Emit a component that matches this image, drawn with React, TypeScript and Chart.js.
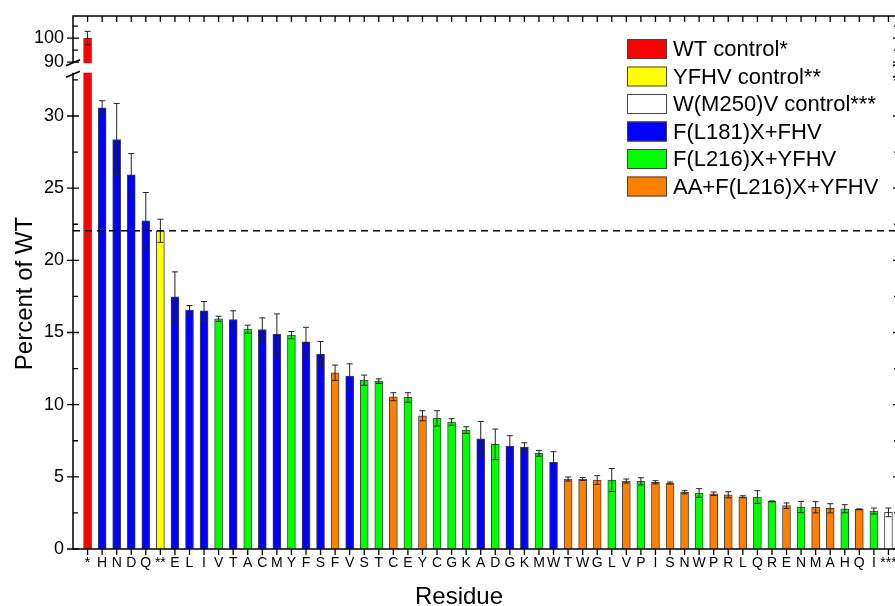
import React, { useEffect, useRef } from 'react';
import { Chart, registerables, LinearScale } from 'chart.js';

const RESIDUES = ['*','H','N','D','Q','**','E','L','I','V','T','A','C','M','Y','F','S','F','V','S','T','C','E','Y','C','G','K','A','D','G','K','M','W','T','W','G','L','V','P','I','S','N','W','P','R','L','Q','R','E','N','M','A','H','Q','I','***'];
const VALUES = [100,30.56,28.37,25.92,22.74,22.05,17.47,16.55,16.5,15.95,15.9,15.23,15.21,14.89,14.82,14.36,13.5,12.21,11.98,11.7,11.63,10.55,10.5,9.23,9.05,8.8,8.24,7.64,7.25,7.13,7.06,6.63,6.0,4.85,4.85,4.78,4.78,4.71,4.69,4.62,4.57,3.93,3.88,3.83,3.76,3.62,3.6,3.3,3.0,2.91,2.89,2.82,2.79,2.75,2.63,2.54];
const ERRORS = [2.8,0.5,2.5,1.48,1.96,0.8,1.73,0.32,0.65,0.18,0.6,0.28,0.8,1.4,0.25,1.0,0.88,0.53,0.85,0.35,0.16,0.28,0.33,0.35,0.53,0.23,0.23,1.2,1.06,0.72,0.3,0.2,0.74,0.14,0.1,0.3,0.8,0.14,0.25,0.11,0.07,0.11,0.3,0.12,0.21,0.07,0.44,0.03,0.19,0.39,0.39,0.32,0.28,0.03,0.21,0.3];
const GROUPS = ['WT','L181','L181','L181','L181','YFHV','L181','L181','L181','L216','L181','L216','L181','L181','L216','L181','L181','AA','L181','L216','L216','AA','L216','AA','L216','L216','L216','L181','L216','L181','L181','L216','L181','AA','AA','AA','L216','AA','L216','AA','AA','AA','L216','AA','AA','AA','L216','L216','AA','L216','AA','AA','L216','AA','L216','W250'];
const GROUP_KEYS = ['WT','YFHV','W250','L181','L216','AA'];
const GROUP_LABELS = ['WT control*','YFHV control**','W(M250)V control***','F(L181)X+FHV','F(L216)X+YFHV','AA+F(L216)X+YFHV'];
const GROUP_COLORS = ['#FF0000','#FFFF00','#FFFFFF','#0000FF','#00FF00','#FF8000'];
const Y_MAJOR_TICKS = [0,5,10,15,20,25,30,90,100];
const Y_MINOR_TICKS = [2.5,7.5,12.5,17.5,22.5,27.5,32.5,95,105];
const REFERENCE_LEVEL = 22.05;
// broken axis: [value, fraction of plot height]
const AXIS_BREAK: number[][] = [[0,0],[33,0.8936],[89.5,0.9113],[109.2,1]];
const LOW_TOP = 33;
const HIGH_BOTTOM = 89.5;

const FONT = '"Liberation Sans", Arial, Helvetica, sans-serif';

function valueToFraction(v: number): number {
  const bp = AXIS_BREAK;
  for (let i = 1; i < bp.length; i++) {
    if (v <= bp[i][0] || i === bp.length - 1) {
      const [v0, f0] = bp[i - 1];
      const [v1, f1] = bp[i];
      return f0 + ((v - v0) / (v1 - v0)) * (f1 - f0);
    }
  }
  return 0;
}
function fractionToValue(f: number): number {
  const bp = AXIS_BREAK;
  for (let i = 1; i < bp.length; i++) {
    if (f <= bp[i][1] || i === bp.length - 1) {
      const [v0, f0] = bp[i - 1];
      const [v1, f1] = bp[i];
      return v0 + ((f - f0) / (f1 - f0)) * (v1 - v0);
    }
  }
  return 0;
}

class BrokenLinearScale extends LinearScale {
  static id = 'brokenLinear';
  static defaults = LinearScale.defaults;
  getPixelForValue(value: any) {
    if (value === null || value === undefined || isNaN(+value)) return NaN;
    const f = valueToFraction(+value);
    return this.bottom - f * (this.bottom - this.top);
  }
  getValueForPixel(pixel: number) {
    const f = (this.bottom - pixel) / (this.bottom - this.top);
    return fractionToValue(f);
  }
}

Chart.register(...registerables, BrokenLinearScale);

const decorPlugin = {
  id: 'decor',
  afterDatasetsDraw(chart: any) {
    const ctx = chart.ctx;
    const xs = chart.scales.x;
    const ys = chart.scales.y;
    const area = chart.chartArea;
    ctx.save();
    // error bars
    ctx.strokeStyle = '#222';
    ctx.lineWidth = 1;
    for (let i = 0; i < VALUES.length; i++) {
      const x = xs.getPixelForValue(i + 1);
      const yT = ys.getPixelForValue(VALUES[i] + ERRORS[i]);
      const yB = ys.getPixelForValue(VALUES[i] - ERRORS[i]);
      ctx.beginPath();
      ctx.moveTo(x, yB);
      ctx.lineTo(x, yT);
      ctx.moveTo(x - 3, yT);
      ctx.lineTo(x + 3, yT);
      ctx.moveTo(x - 3, yB);
      ctx.lineTo(x + 3, yB);
      ctx.stroke();
    }
    // dashed reference line
    const yr = ys.getPixelForValue(REFERENCE_LEVEL);
    ctx.strokeStyle = '#000';
    ctx.lineWidth = 1.3;
    ctx.setLineDash([7, 5]);
    ctx.beginPath();
    ctx.moveTo(area.left, yr);
    ctx.lineTo(area.right, yr);
    ctx.stroke();
    ctx.setLineDash([]);
    ctx.restore();
  },
  afterDraw(chart: any) {
    const ctx = chart.ctx;
    const xs = chart.scales.x;
    const ys = chart.scales.y;
    const { left, right, top, bottom } = chart.chartArea;
    const gapTop = ys.getPixelForValue(HIGH_BOTTOM);
    const gapBot = ys.getPixelForValue(LOW_TOP);
    ctx.save();
    // white break gap
    ctx.fillStyle = '#fff';
    ctx.fillRect(left + 1, gapTop, right - left - 2, gapBot - gapTop);

    ctx.strokeStyle = '#000';
    ctx.lineWidth = 1.5;
    ctx.beginPath();
    // left axis (broken)
    ctx.moveTo(left, bottom + 0.75);
    ctx.lineTo(left, gapBot);
    ctx.moveTo(left, gapTop);
    ctx.lineTo(left, top - 0.75);
    // right axis (broken)
    ctx.moveTo(right, bottom + 0.75);
    ctx.lineTo(right, gapBot);
    ctx.moveTo(right, gapTop);
    ctx.lineTo(right, top - 0.75);
    // bottom & top
    ctx.moveTo(left, bottom);
    ctx.lineTo(right, bottom);
    ctx.moveTo(left, top);
    ctx.lineTo(right, top);
    ctx.stroke();

    // x ticks
    ctx.lineWidth = 1.3;
    ctx.beginPath();
    for (let i = 0; i < RESIDUES.length; i++) {
      const x = xs.getPixelForValue(i + 1);
      ctx.moveTo(x, bottom);
      ctx.lineTo(x, bottom + 6);
      ctx.moveTo(x, top);
      ctx.lineTo(x, top + 6);
    }
    // y ticks
    for (const v of Y_MAJOR_TICKS) {
      const y = ys.getPixelForValue(v);
      ctx.moveTo(left - 6, y);
      ctx.lineTo(left + 6, y);
      ctx.moveTo(right - 10, y);
      ctx.lineTo(right + 6, y);
    }
    for (const v of Y_MINOR_TICKS) {
      const y = ys.getPixelForValue(v);
      ctx.moveTo(left, y);
      ctx.lineTo(left + 5, y);
      ctx.moveTo(right - 9, y);
      ctx.lineTo(right, y);
    }
    ctx.stroke();

    // break marks
    ctx.lineWidth = 1.5;
    ctx.beginPath();
    const marks = [gapTop - 0.5, gapBot + 1.5];
    for (const y of marks) {
      ctx.moveTo(left - 7, y + 3);
      ctx.lineTo(left + 7, y - 3);
      ctx.moveTo(right - 10, y + 3);
      ctx.lineTo(right + 4, y - 3);
    }
    ctx.stroke();

    // legend
    const legX = 627;
    const legY0 = 49;
    const pitch = 27.5;
    ctx.font = `22px ${FONT}`;
    ctx.textBaseline = 'middle';
    ctx.textAlign = 'left';
    GROUP_LABELS.forEach((label, g) => {
      const cy = legY0 + g * pitch;
      ctx.fillStyle = GROUP_COLORS[g];
      ctx.fillRect(legX, cy - 10, 40, 20);
      ctx.strokeStyle = '#444';
      ctx.lineWidth = 1;
      ctx.strokeRect(legX + 0.5, cy - 9.5, 39, 19);
      ctx.fillStyle = '#000';
      ctx.fillText(label, legX + 46, cy + 1);
    });

    // axis titles
    ctx.fillStyle = '#000';
    ctx.font = `24px ${FONT}`;
    ctx.textAlign = 'center';
    ctx.textBaseline = 'alphabetic';
    ctx.fillText('Residue', 459, 604);
    ctx.save();
    ctx.translate(31.5, 293.5);
    ctx.rotate(-Math.PI / 2);
    ctx.fillText('Percent of WT', 0, 0);
    ctx.restore();
    ctx.restore();
  },
};

export default function App() {
  const ref = useRef<HTMLCanvasElement>(null);
  useEffect(() => {
    const datasets = GROUP_KEYS.map((key, g) => ({
      label: GROUP_LABELS[g],
      data: RESIDUES.map((_, i) => i)
        .filter((i) => GROUPS[i] === key)
        .map((i) => ({ x: i + 1, y: VALUES[i] })),
      backgroundColor: GROUP_COLORS[g],
      borderColor: '#444',
      borderWidth: 1,
      barThickness: 8,
      grouped: false,
    }));
    const chart = new Chart(ref.current as HTMLCanvasElement, {
      type: 'bar',
      data: { datasets } as any,
      options: {
        animation: false,
        responsive: false,
        events: [],
        layout: { padding: { top: 16, right: 7, left: 0, bottom: 0 } },
        plugins: { legend: { display: false }, tooltip: { enabled: false } },
        scales: {
          x: {
            type: 'linear',
            min: 0,
            max: RESIDUES.length + 1,
            offset: false,
            grid: { display: false, drawTicks: false, offset: false },
            border: { display: false },
            afterBuildTicks: (s: any) => {
              s.ticks = RESIDUES.map((_, i) => ({ value: i + 1 }));
            },
            afterFit: (s: any) => {
              s.height = 57;
              s.paddingLeft = 0;
              s.paddingRight = 0;
            },
            ticks: {
              autoSkip: false,
              maxRotation: 0,
              minRotation: 0,
              padding: 6,
              color: '#000',
              font: { family: FONT, size: 14 },
              callback: (v: any) => RESIDUES[Math.round(v) - 1] ?? '',
            },
          },
          y: {
            type: 'brokenLinear' as any,
            min: 0,
            max: AXIS_BREAK[AXIS_BREAK.length - 1][0],
            grid: { display: false, drawTicks: false },
            border: { display: false },
            afterBuildTicks: (s: any) => {
              s.ticks = Y_MAJOR_TICKS.map((v) => ({ value: v }));
            },
            afterFit: (s: any) => {
              s.width = 73;
              s.paddingTop = 0;
              s.paddingBottom = 0;
            },
            ticks: {
              autoSkip: false,
              padding: 9,
              color: '#000',
              font: { family: FONT, size: 18 },
              callback: (v: any) => String(v),
            },
          },
        } as any,
      },
      plugins: [decorPlugin],
    });
    return () => chart.destroy();
  }, []);
  return (
    <div style={{ position: 'fixed', left: 0, top: 0, width: 895, height: 606, overflow: 'hidden', background: '#fff' }}>
      <canvas ref={ref} width={910} height={606} style={{ display: 'block' }} />
    </div>
  );
}
